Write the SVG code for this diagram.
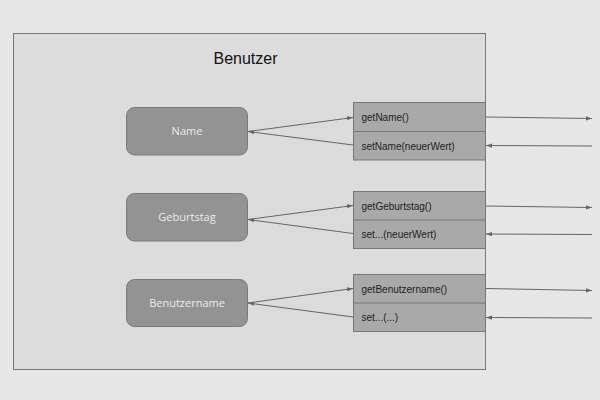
<svg xmlns="http://www.w3.org/2000/svg" width="600" height="400" viewBox="0 0 600 400">
<defs>
<style>
.node rect{fill:#939393;stroke:#7a7a7a;stroke-width:1}
.node text{font-family:"Open Sans","DejaVu Sans",sans-serif;font-size:11px;fill:#ececec;text-anchor:middle}
.m rect{fill:#a9a9a9;stroke:#777;stroke-width:1}
.m line{stroke:#777;stroke-width:1}
.m text{font-family:"Liberation Sans",Arial,sans-serif;font-size:10px;fill:#222}
.c line{stroke:#666;stroke-width:1;fill:none}
</style>
<marker id="ah" viewBox="0 0 10 10" refX="10" refY="5" markerWidth="6" markerHeight="6" orient="auto" markerUnits="userSpaceOnUse">
<path d="M0,1.5 L10,5 L0,8.5 z" fill="#666"/>
</marker>
</defs>
<rect x="0" y="0" width="600" height="400" fill="#e7e7e7"/>
<g id="container">
<rect x="13.5" y="33.5" width="472" height="336" fill="#dcdcdc" stroke="#777" stroke-width="1"/>
<text x="245.5" y="63.5" font-family="Liberation Sans,Arial,sans-serif" font-size="16" fill="#111" text-anchor="middle">Benutzer</text>
</g>
<g id="node-name" class="node"><rect x="126.5" y="107.5" width="121" height="47.5" rx="8"/><text x="187" y="135">Name</text></g>
<g id="node-geburtstag" class="node"><rect x="126.5" y="193.5" width="121" height="47.5" rx="8"/><text x="187" y="221">Geburtstag</text></g>
<g id="node-benutzername" class="node"><rect x="126.5" y="279.5" width="121" height="47" rx="8"/><text x="187" y="307">Benutzername</text></g>
<g id="methods-name" class="m"><rect x="353.5" y="102.5" width="132" height="57.5"/><line x1="353.5" y1="131.5" x2="485.5" y2="131.5"/><text x="361.5" y="120.5">getName()</text><text x="361.5" y="149.5">setName(neuerWert)</text></g>
<g id="methods-geburtstag" class="m"><rect x="353.5" y="191.5" width="132" height="57"/><line x1="353.5" y1="220" x2="485.5" y2="220"/><text x="361.5" y="209.5">getGeburtstag()</text><text x="361.5" y="238">set...(neuerWert)</text></g>
<g id="methods-benutzername" class="m"><rect x="353.5" y="274.5" width="132" height="57"/><line x1="353.5" y1="303" x2="485.5" y2="303"/><text x="361.5" y="292.5">getBenutzername()</text><text x="361.5" y="321">set...(...)</text></g>
<g id="connectors" class="c">
<line x1="248" y1="131.5" x2="353" y2="117.5" marker-end="url(#ah)"/>
<line x1="353" y1="145" x2="248" y2="131.5" marker-end="url(#ah)"/>
<line x1="248" y1="219.5" x2="353" y2="205.5" marker-end="url(#ah)"/>
<line x1="353" y1="233.5" x2="248" y2="219.5" marker-end="url(#ah)"/>
<line x1="248" y1="303" x2="353" y2="288.5" marker-end="url(#ah)"/>
<line x1="353" y1="317" x2="248" y2="303" marker-end="url(#ah)"/>
<line x1="486" y1="117" x2="592" y2="118.5" marker-end="url(#ah)"/>
<line x1="592" y1="146" x2="486" y2="145.5" marker-end="url(#ah)"/>
<line x1="486" y1="206" x2="592" y2="207.5" marker-end="url(#ah)"/>
<line x1="592" y1="234.5" x2="486" y2="234" marker-end="url(#ah)"/>
<line x1="486" y1="288.5" x2="592" y2="290.5" marker-end="url(#ah)"/>
<line x1="592" y1="318" x2="486" y2="317.5" marker-end="url(#ah)"/>
</g>
</svg>
